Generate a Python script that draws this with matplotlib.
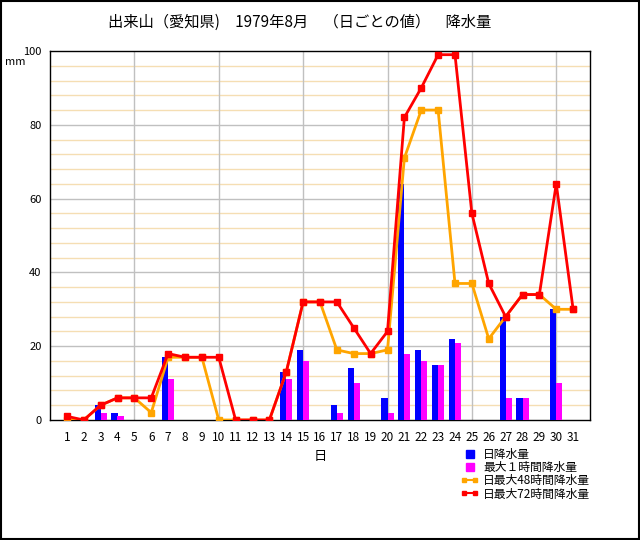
import matplotlib
matplotlib.use('Agg')
import matplotlib.pyplot as plt
from matplotlib.lines import Line2D
from matplotlib.patches import Rectangle
from matplotlib.legend_handler import HandlerLine2D
import numpy as np

plt.rcParams['font.family'] = ['Noto Sans CJK JP', 'DejaVu Sans']

days = list(range(1, 32))
daily = [0, 0, 4, 2, 0, 0, 17, 0, 0, 0, 0, 0, 0, 13, 19, 0,
         4, 14, 0, 6, 64, 19, 15, 22, 0, 0, 28, 6, 0, 30, 0]
max1h = [0, 0, 2, 1, 0, 0, 11, 0, 0, 0, 0, 0, 0, 11, 16, 0,
         2, 10, 0, 2, 18, 16, 15, 21, 0, 0, 6, 6, 0, 10, 0]
max48h = [0, 0, 4, 6, 6, 2, 17, 17, 17, 0, 0, 0, 0, 13, 32, 32,
          19, 18, 18, 19, 71, 84, 84, 37, 37, 22, 28, 34, 34, 30, 30]
max72h = [1, 0, 4, 6, 6, 6, 18, 17, 17, 17, 0, 0, 0, 13, 32, 32,
          32, 25, 18, 24, 82, 90, 99, 99, 56, 37, 28, 34, 34, 64, 30]

title = '出来山（愛知県)　1979年8月　（日ごとの値）　降水量'

fig = plt.figure(figsize=(6.4, 5.4), dpi=100)
fig.patch.set_facecolor('white')
# outer frame
fig.add_artist(Rectangle((0.001, 0.001), 0.997, 0.997, transform=fig.transFigure,
                         fill=False, edgecolor='black', linewidth=1.5))

ax = fig.add_axes([50 / 640, 1 - 420 / 540, 540 / 640, 369 / 540])

x = np.array(days)
w = 0.36
ax.bar(x - w / 2, daily, width=w, color='#0000ff', zorder=3)
ax.bar(x + w / 2, max1h, width=w, color='#ff00ff', zorder=3)
ax.plot(x, max48h, color='orange', linewidth=2, marker='s', markersize=4.5, zorder=4)
ax.plot(x, max72h, color='red', linewidth=2, marker='s', markersize=5, zorder=5)

ax.set_xlim(0, 32)
ax.set_ylim(0, 100)
ax.set_xticks(days)
ax.set_xticklabels([str(d) for d in days], fontsize=8.5)
ax.set_yticks(range(0, 101, 20))
ax.set_yticklabels([str(v) for v in range(0, 101, 20)], fontsize=8)
ax.set_yticks(range(0, 101, 4), minor=True)
ax.tick_params(which='both', length=0)
ax.tick_params(axis='x', pad=8)
ax.tick_params(axis='y', pad=6)

for v in range(4, 100, 4):
    if v % 20:
        ax.axhline(v, color='#f5deb3', linewidth=1, zorder=1)
for v in range(20, 100, 20):
    ax.axhline(v, color='#c0c0c0', linewidth=1, zorder=1)
for d in range(5, 31, 5):
    ax.axvline(d, color='#c0c0c0', linewidth=1, zorder=1)

for s in ax.spines.values():
    s.set_linewidth(1)
    s.set_color('black')

ax.set_xlabel('日', fontsize=9.5, labelpad=4)
fig.text(15 / 640, 1 - 62 / 540, 'mm', fontsize=8, va='center', ha='center')
fig.text(300 / 640, 1 - 22 / 540, title, fontsize=11, ha='center', va='center')

handles = [
    Line2D([], [], color='#0000ff', marker='s', linestyle='none', markersize=6),
    Line2D([], [], color='#ff00ff', marker='s', linestyle='none', markersize=6),
    Line2D([], [], color='orange', marker='s', markersize=3, linewidth=1.5),
    Line2D([], [], color='red', marker='s', markersize=3, linewidth=1.5),
]
labels = ['日降水量', '最大１時間降水量', '日最大48時間降水量', '日最大72時間降水量']
fig.legend(handles, labels, loc='upper left', bbox_to_anchor=(455 / 640, 1 - 442 / 540),
           frameon=False, fontsize=8.5, handlelength=1.5, handletextpad=0.4,
           labelspacing=0.02, borderpad=0,
           handler_map={handles[0]: HandlerLine2D(numpoints=1),
                        handles[1]: HandlerLine2D(numpoints=1),
                        handles[2]: HandlerLine2D(numpoints=2),
                        handles[3]: HandlerLine2D(numpoints=2)})

fig.savefig('out.png', dpi=100)
